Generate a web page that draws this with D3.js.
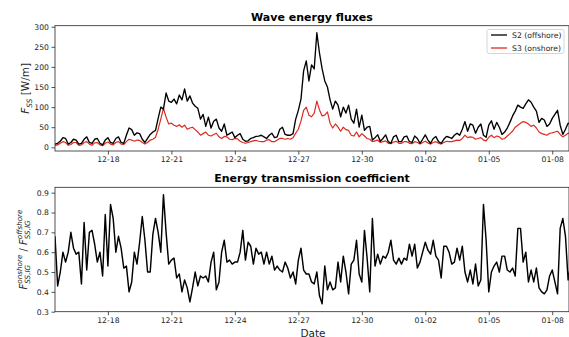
<!DOCTYPE html>
<html><head><meta charset="utf-8">
<script src="https://cdn.jsdelivr.net/npm/d3@7/dist/d3.min.js"></script>
<style>body{margin:0;background:#fff}svg{display:block}</style>
</head><body><svg id="c" width="569" height="337"></svg>
<script>
// ---------------- data (3-hourly samples) ----------------
const startTime = "2019-12-15T12:00";
const stepHours = 3;

const s2Offshore = [
  8,10,15,24,22,8,12,20,18,8,
  10,20,26,12,10,20,22,10,6,18,
  24,12,10,22,26,12,10,30,48,44,
  30,36,34,20,12,22,32,38,42,72,
  100,95,135,115,112,120,108,130,118,145,
  115,128,110,102,97,70,82,52,75,48,
  65,70,48,40,58,30,34,38,24,30,
  34,20,15,16,22,24,27,28,30,26,
  22,30,35,24,26,45,50,32,30,30,
  34,70,92,120,190,215,165,205,195,285,
  234,195,165,150,118,95,115,105,76,100,
  85,105,70,60,95,50,80,42,50,52,
  18,24,31,15,22,31,14,10,26,30,
  14,14,26,28,14,12,28,22,10,20,
  31,18,10,22,27,14,10,20,27,25,
  22,30,35,30,45,64,40,58,55,35,
  50,58,30,25,55,66,45,62,50,32,
  38,48,62,78,90,105,100,97,108,118,
  112,100,90,62,72,68,52,58,72,82,
  92,55,32,45,60,58
];

const s3Onshore = [
  5,6,10,14,12,5,7,12,12,5,
  6,12,14,8,5,11,12,6,4,10,
  13,8,6,12,14,8,7,14,20,18,
  15,18,17,12,8,12,18,20,25,45,
  70,97,75,58,60,55,52,56,50,55,
  45,48,50,44,38,30,34,38,30,28,
  32,35,26,22,27,26,20,19,22,21,
  15,12,10,12,14,16,17,15,14,14,
  18,19,14,14,18,22,22,20,22,20,
  24,35,45,65,92,100,80,76,85,115,
  93,78,80,88,60,48,58,50,40,50,
  44,42,30,28,38,26,34,28,22,20,
  14,16,18,12,14,16,10,9,13,15,
  10,10,14,14,10,9,14,12,8,12,
  15,11,8,12,14,10,8,12,15,14,
  14,16,18,17,22,30,24,26,25,20,
  22,24,18,16,25,30,24,28,26,20,
  22,28,34,40,50,55,60,64,62,58,
  52,55,48,38,34,32,30,35,36,38,
  40,32,26,30,35,36
];

const transmission = [
  0.68,0.43,0.50,0.60,0.55,0.60,0.70,0.62,0.59,0.60,
  0.44,0.75,0.51,0.70,0.71,0.64,0.55,0.60,0.48,0.79,
  0.53,0.84,0.77,0.60,0.68,0.62,0.52,0.53,0.40,0.45,
  0.60,0.54,0.65,0.78,0.66,0.50,0.50,0.69,0.77,0.70,
  0.60,0.89,0.70,0.54,0.56,0.57,0.47,0.49,0.40,0.46,
  0.42,0.35,0.42,0.50,0.43,0.48,0.47,0.48,0.45,0.55,
  0.60,0.41,0.45,0.60,0.66,0.55,0.56,0.54,0.55,0.55,
  0.60,0.71,0.56,0.65,0.63,0.54,0.62,0.59,0.60,0.54,
  0.60,0.54,0.58,0.51,0.53,0.51,0.50,0.55,0.52,0.47,
  0.50,0.44,0.56,0.62,0.51,0.49,0.49,0.45,0.44,0.50,
  0.38,0.34,0.53,0.41,0.45,0.41,0.42,0.55,0.45,0.58,
  0.50,0.39,0.54,0.56,0.66,0.49,0.45,0.71,0.57,0.40,
  0.77,0.53,0.59,0.54,0.58,0.57,0.60,0.66,0.56,0.54,
  0.57,0.54,0.57,0.56,0.64,0.58,0.64,0.52,0.55,0.60,
  0.65,0.61,0.59,0.66,0.58,0.56,0.47,0.63,0.63,0.60,
  0.54,0.55,0.62,0.56,0.63,0.50,0.45,0.51,0.44,0.54,
  0.43,0.46,0.84,0.66,0.40,0.50,0.53,0.55,0.50,0.58,
  0.58,0.51,0.50,0.52,0.48,0.72,0.72,0.55,0.60,0.45,
  0.51,0.45,0.52,0.42,0.40,0.39,0.41,0.48,0.51,0.45,
  0.39,0.72,0.77,0.68,0.46,0.54
];

const xTickDates = ["2019-12-18","2019-12-21","2019-12-24","2019-12-27","2019-12-30","2020-01-02","2020-01-05","2020-01-08"];
const fluxTicks = [0,50,100,150,200,250,300];
const coefTicks = [0.3,0.4,0.5,0.6,0.7,0.8,0.9];
const seriesNames = ["S2 (offshore)","S3 (onshore)"];
const titles = ["Wave energy fluxes","Energy transmission coefficient"];

// ---------------- drawing ----------------
const svg = d3.select("#c");
const FONT = "DejaVu Sans, sans-serif";
const INK = "#262626";
const parseT = d3.timeParse("%Y-%m-%dT%H:%M");
const parseD = d3.timeParse("%Y-%m-%d");
const t0 = parseT(startTime);
const times = s2Offshore.map((_, i) => d3.timeHour.offset(t0, i * stepHours));
const tickDates = xTickDates.map(parseD);

const L = 55, R = 569;
const x = d3.scaleTime()
  .domain([t0, d3.timeHour.offset(t0, 24 * 24 + 7)])
  .range([L, R]);

const pTop = {t: 25.7, b: 151};
const pBot = {t: 187.3, b: 311.7};
const yTop = d3.scaleLinear().domain([-9.2, 302.5]).range([pTop.b, pTop.t]);
const yBot = d3.scaleLinear().domain([0.30, 0.927]).range([pBot.b, pBot.t]);

const defs = svg.append("defs");
[["clipTop", pTop], ["clipBot", pBot]].forEach(([id, p]) => {
  defs.append("clipPath").attr("id", id).append("rect")
    .attr("x", L).attr("y", p.t).attr("width", R - L).attr("height", p.b - p.t);
});

function styleAxis(g) {
  g.selectAll("path.domain").remove();
  g.selectAll(".tick line").attr("stroke", INK).attr("stroke-width", 0.8);
  g.selectAll(".tick text").attr("fill", INK).style("font-family", FONT).style("font-size", "7.7px");
}

function panel(p, y, yTicks, yFmt) {
  svg.append("g").attr("transform", `translate(0,${p.b})`)
    .call(d3.axisBottom(x).tickValues(tickDates).tickFormat(d3.timeFormat("%m-%d")).tickSize(3.5).tickPadding(2.5))
    .call(styleAxis);
  svg.append("g").attr("transform", `translate(${L},0)`)
    .call(d3.axisLeft(y).tickValues(yTicks).tickFormat(yFmt).tickSize(3.5).tickPadding(2.5))
    .call(styleAxis);
}

panel(pTop, yTop, fluxTicks, d3.format("d"));
panel(pBot, yBot, coefTicks, d3.format(".1f"));

const lineTop = d3.line().x((d, i) => x(times[i])).y(d => yTop(d));
const lineBot = d3.line().x((d, i) => x(times[i])).y(d => yBot(d));

const gT = svg.append("g").attr("clip-path", "url(#clipTop)");
gT.append("path").attr("d", lineTop(s3Onshore)).attr("fill", "none")
  .attr("stroke", "#dd2a1e").attr("stroke-width", 1.2).attr("stroke-linejoin", "round");
gT.append("path").attr("d", lineTop(s2Offshore)).attr("fill", "none")
  .attr("stroke", "#000").attr("stroke-width", 1.35).attr("stroke-linejoin", "round");

svg.append("g").attr("clip-path", "url(#clipBot)")
  .append("path").attr("d", lineBot(transmission)).attr("fill", "none")
  .attr("stroke", "#000").attr("stroke-width", 1.45).attr("stroke-linejoin", "round");

// frames
[pTop, pBot].forEach(p => {
  svg.append("rect").attr("x", L).attr("y", p.t).attr("width", R - L).attr("height", p.b - p.t)
    .attr("fill", "none").attr("stroke", INK).attr("stroke-width", 0.8);
});

// titles
svg.append("text").attr("x", 312).attr("y", 20.5).attr("text-anchor", "middle")
  .style("font-family", FONT).style("font-weight", "bold").style("font-size", "11px")
  .attr("fill", "#000").text(titles[0]);
svg.append("text").attr("x", 312).attr("y", 182).attr("text-anchor", "middle")
  .style("font-family", FONT).style("font-weight", "bold").style("font-size", "11px")
  .attr("fill", "#000").text(titles[1]);

// x label
svg.append("text").attr("x", 313).attr("y", 336.5).attr("text-anchor", "middle")
  .style("font-family", FONT).style("font-size", "10.5px").attr("fill", INK).text("Date");

// legend
const lg = svg.append("g");
lg.append("rect").attr("x", 487).attr("y", 29.5).attr("width", 77).attr("height", 24).attr("rx", 2)
  .attr("fill", "#fff").attr("fill-opacity", 0.85).attr("stroke", "#cccccc").attr("stroke-width", 0.8);
[["#000", 35], ["#dd2a1e", 48]].forEach(([c, yy], k) => {
  lg.append("line").attr("x1", 491).attr("x2", 507).attr("y1", yy).attr("y2", yy)
    .attr("stroke", c).attr("stroke-width", 1.3);
  lg.append("text").attr("x", 512).attr("y", yy + 2.8)
    .style("font-family", FONT).style("font-size", "7.7px").attr("fill", INK).text(seriesNames[k]);
});

// rotated math-like y labels
function mathLabel(cy, baseX, pieces) {
  const g = svg.append("g").attr("transform", `translate(${baseX},${cy}) rotate(-90)`);
  let pos = 0;
  pieces.forEach(p => {
    if (p.stack) {
      let w = 0;
      p.stack.forEach(s => {
        const t = g.append("text").attr("x", pos).attr("y", s.dy)
          .style("font-family", FONT).style("font-size", s.size + "px")
          .style("font-style", s.italic ? "italic" : "normal").attr("fill", INK).text(s.t);
        w = Math.max(w, t.node().getComputedTextLength());
      });
      pos += w;
    } else {
      const t = g.append("text").attr("x", pos).attr("y", p.dy || 0)
        .style("font-family", FONT).style("font-size", p.size + "px")
        .style("font-style", p.italic ? "italic" : "normal").attr("fill", INK)
        .text(p.t);
      pos += t.node().getComputedTextLength();
    }
  });
  g.selectAll("text").attr("x", function() { return +d3.select(this).attr("x") - pos / 2; });
}

mathLabel((pTop.t + pTop.b) / 2, 29, [
  {t: "F", italic: true, size: 10.5},
  {t: "SS", italic: true, size: 7.4, dy: 2.6},
  {t: "\u00a0[W/m]", size: 10.5}
]);

mathLabel((pBot.t + pBot.b) / 2, 26.5, [
  {t: "F", italic: true, size: 10},
  {stack: [{t: "onshore", italic: true, size: 7.2, dy: -4.2}, {t: "SS,IG", italic: true, size: 7.2, dy: 3}]},
  {t: "\u00a0/\u00a0", size: 10},
  {t: "F", italic: true, size: 10},
  {stack: [{t: "offshore", italic: true, size: 7.2, dy: -4.2}, {t: "SS,IG", italic: true, size: 7.2, dy: 3}]}
]);
</script></body></html>
